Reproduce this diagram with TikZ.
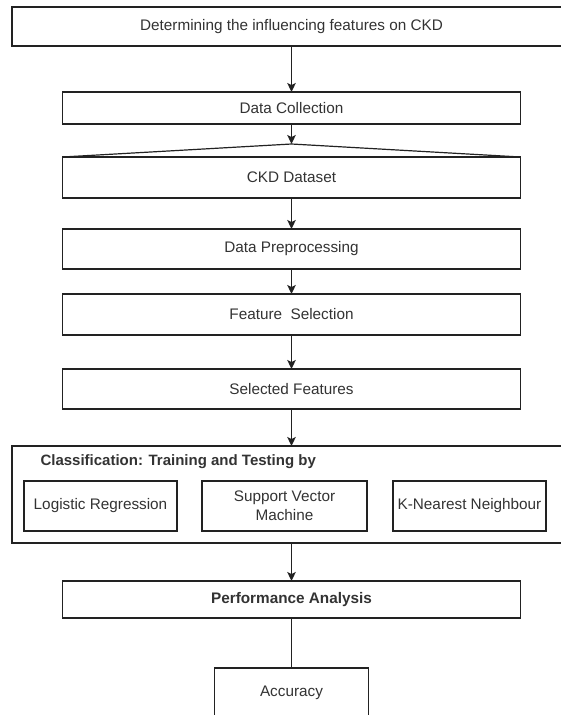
\documentclass[tikz,border=0pt]{standalone}
\usepackage{fontspec}
\setmainfont{Liberation Sans}
\usepackage{xcolor}
\usetikzlibrary{arrows.meta,positioning}
\definecolor{inkGray}{HTML}{222222}
\definecolor{textGray}{HTML}{333333}

\begin{document}
\begin{tikzpicture}[
  x=1pt, y=-1pt,
  every node/.style={font=\fontsize{15.3}{19}\selectfont, text=textGray, align=center},
  stage/.style={draw=inkGray,line width=1.2pt,fill=white,minimum width=458pt,inner sep=0pt,outer sep=0pt},
  model/.style={draw=inkGray,line width=1.2pt,fill=white,minimum height=50pt,inner sep=0pt,outer sep=0pt},
  flow/.style={-{Stealth[length=9pt,width=8.5pt,inset=2pt]},line width=1.3pt,color=inkGray}
]
\useasboundingbox (0,0) rectangle (561,715);
\fill[white] (0,0) rectangle (561,715);
\clip (0,0) rectangle (561,715);

% Etapas principales
\node[stage,minimum width=559pt,minimum height=39pt] (goal) at (291.5,26.5) {Determining the influencing features on CKD};
\node[stage,minimum height=32pt,below=46pt of goal] (collect) {Data Collection};
\node[stage,minimum height=41pt,below=33pt of collect] (dataset) {CKD Dataset};
\coordinate (peak) at (291.5,144);
\node[stage,minimum height=40pt,below=31pt of dataset] (prep) {Data Preprocessing};
\node[stage,minimum height=41pt,below=25pt of prep] (fsel) {Feature\ \ Selection};
\node[stage,minimum height=40pt,below=34pt of fsel] (feats) {Selected Features};

% Bloque de clasificacion
\node[stage,minimum width=559pt,minimum height=97pt,below=37pt of feats] (classif) {};
\node[anchor=west,font=\fontsize{15}{19}\selectfont\bfseries] (ctitle) at (37,462) {Classification: Training and Testing by};
\node[model,minimum width=153pt] (lr) at (100.5,506) {Logistic Regression};
\node[model,minimum width=165pt,right=25pt of lr] (svm) {Support Vector\\Machine};
\node[model,minimum width=153pt,right=26pt of svm] (knn) {K-Nearest Neighbour};

% Resultados
\node[stage,minimum height=37pt,below=38pt of classif,font=\fontsize{15.3}{19}\selectfont\bfseries] (perf) {Performance Analysis};
\node[model,minimum width=154pt,below=50pt of perf] (acc) {Accuracy};

% Conexiones
\draw[line width=1.2pt,color=inkGray] (dataset.north west) -- (peak) -- (dataset.north east);
\draw[flow] (goal) -- (collect);
\draw[flow] (collect) -- (peak);
\draw[flow] (dataset) -- (prep);
\draw[flow] (prep) -- (fsel);
\draw[flow] (fsel) -- (feats);
\draw[flow] (feats) -- (classif);
\draw[flow] (classif) -- (perf);
\draw[line width=1.3pt,color=inkGray] (perf) -- (acc);
\end{tikzpicture}
\end{document}
